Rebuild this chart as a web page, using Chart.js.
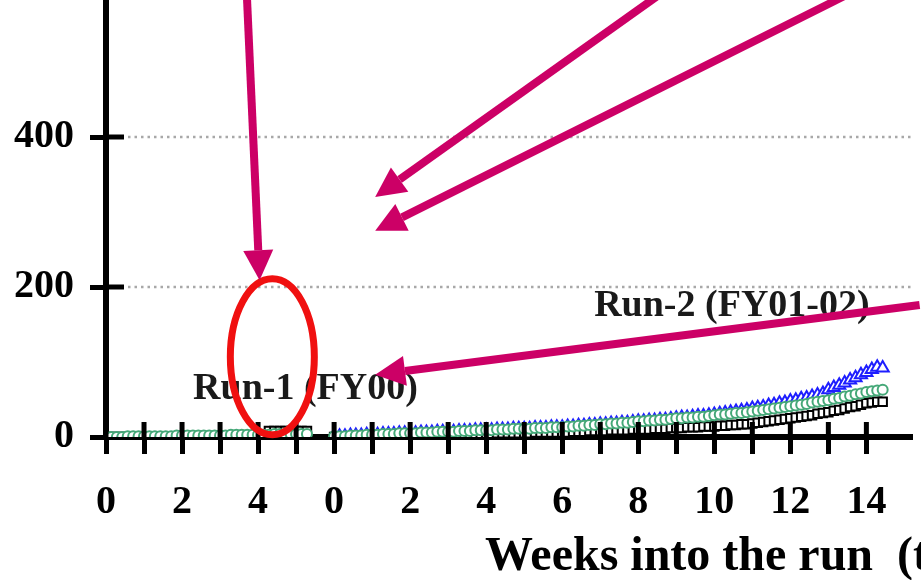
<!DOCTYPE html>
<html>
<head>
<meta charset="utf-8">
<script src="https://cdn.jsdelivr.net/npm/chart.js@4"></script>
<style>
  html, body { margin: 0; padding: 0; background: #fff; overflow: hidden; }
  #wrap { position: relative; width: 921px; height: 580px; overflow: hidden; }
  #myChart { position: absolute; left: 0; top: -53px; }
</style>
</head>
<body>
<div id="wrap"><canvas id="myChart" width="921" height="633"></canvas></div>
<script>
// weeks on the shared axis where run 2 starts
const RUN2_START = 6
const yTicks = [0, 200, 400, 600]

// daily values, run 1 (FY00)
const run1Green = [0,0,0,0,1,1,1,1,1,1,1,1,1,2,2,2,2,2,2,2,2,2,2,3,3,3,3,3,3,3,3,4,4,4,4,4,4,4]
const run1Black = [0,0,0,0,0,1,1,1,1,1,1,1,1,1,1,1,1,1,1,1,1,2,2,2,2,2,2,2,2,3,8,8,8,8,8,8,8,8]
const run1Red = [-4,-4,-4,-4,-4,-4,-4,-4,-4,-4,-4,-4,-4,-4,-4,-4,-4,-4,-4,-4,-4,-4,-4,-4,-4,-4,-4,-4,-4,-4,-4,-4,-4,-4,-4,-4,-4,-4]

// daily values, run 2 (FY01-02)
const run2Green = [
    1,1,1,2,2,2,3, 3,3,4,4,4,5,5, 5,5,6,6,6,7,7, 7,7,8,8,8,9,9,
    9,9,10,10,10,11,11, 11,11,12,12,12,13,13, 13,14,14,15,15,16,16,
    17,17,18,18,19,19,20, 21,21,22,22,23,23,24, 25,25,26,26,27,27,28,
    29,30,30,31,32,32,33, 34,35,36,37,38,39,40, 41,42,43,44,46,47,48,
    49,51,52,54,55,57,58, 60,61,62,63
]
const run2Blue = [
    1,1,1,2,2,2,3, 3,3,4,4,4,5,5, 5,5,6,6,6,7,7, 7,7,8,8,8,9,9,
    9,9,10,10,10,11,11, 11,11,12,12,12,13,13, 13,14,14,15,15,16,16,
    17,17,18,18,19,19,20, 21,21,22,22,23,23,24, 25,26,26,27,28,28,29,
    30,31,32,33,34,35,36, 38,39,40,42,43,45,46, 48,49,51,52,54,56,58,
    63,66,69,72,76,79,83, 86,90,93,92
]
const run2Black = [
    0,0,0,1,1,1,1, 1,1,2,2,2,2,2, 2,2,3,3,3,3,3, 3,3,4,4,4,4,4,
    4,4,5,5,5,5,5, 5,5,6,6,6,6,6, 6,6,7,7,7,8,8,
    8,8,9,9,9,9,10, 10,10,10,11,11,11,12, 12,12,13,13,13,14,14,
    14,15,15,16,16,17,17, 18,19,20,21,22,23,24, 25,26,27,28,29,31,32,
    33,35,36,38,40,41,43, 45,46,47,47
]

function toPoints(values, start) {
    return values.map((v, i) => ({ x: start + i / 7, y: v }))
}

const serif = '"Liberation Serif", "Times New Roman", serif'
const magenta = '#CC0066'

function arrow(ctx, x1, y1, x2, y2) {
    const a = Math.atan2(y2 - y1, x2 - x1)
    const len = 30, half = 15
    const bx = x2 - Math.cos(a) * len, by = y2 - Math.sin(a) * len
    ctx.strokeStyle = magenta
    ctx.fillStyle = magenta
    ctx.lineWidth = 8
    ctx.beginPath()
    ctx.moveTo(x1, y1)
    ctx.lineTo(bx, by)
    ctx.stroke()
    ctx.beginPath()
    ctx.moveTo(x2, y2)
    ctx.lineTo(bx + Math.sin(a) * half, by - Math.cos(a) * half)
    ctx.lineTo(bx - Math.sin(a) * half, by + Math.cos(a) * half)
    ctx.closePath()
    ctx.fill()
}

// dotted grid, cross-shaped ticks, arrows, circle and labels
const extras = {
    id: 'extras',
    beforeDatasetsDraw(chart) {
        const ctx = chart.ctx
        const ys = chart.scales.y
        const area = chart.chartArea
        ctx.save()
        ctx.strokeStyle = '#a8a8a8'
        ctx.lineWidth = 2.5
        ctx.setLineDash([2.5, 4])
        yTicks.forEach(v => {
            if (v === 0) return
            const py = ys.getPixelForValue(v)
            ctx.beginPath()
            ctx.moveTo(area.left + 22, py)
            ctx.lineTo(area.right, py)
            ctx.stroke()
        })
        ctx.restore()
    },
    afterDraw(chart) {
        const ctx = chart.ctx
        const xs = chart.scales.x, ys = chart.scales.y
        const area = chart.chartArea
        ctx.save()
        ctx.strokeStyle = '#000'
        ctx.lineWidth = 5
        xs.ticks.forEach(t => {
            const px = xs.getPixelForValue(t.value)
            ctx.beginPath()
            ctx.moveTo(px, area.bottom - 15)
            ctx.lineTo(px, area.bottom)
            ctx.stroke()
        })
        ys.ticks.forEach(t => {
            const py = ys.getPixelForValue(t.value)
            if (t.value === 0) return
            ctx.beginPath()
            ctx.moveTo(area.left, py)
            ctx.lineTo(area.left + 18, py)
            ctx.stroke()
        })

        const X = v => xs.getPixelForValue(v)
        const Y = v => ys.getPixelForValue(v)

        ctx.font = 'bold 38px ' + serif
        ctx.fillStyle = '#1a1a1a'
        ctx.textBaseline = 'middle'
        ctx.textAlign = 'left'
        ctx.fillText('Run-1 (FY00)', X(2.29), Y(64))
        ctx.fillText('Run-2 (FY01-02)', X(12.84), Y(175))

        ctx.strokeStyle = '#F01010'
        ctx.lineWidth = 7
        ctx.beginPath()
        ctx.ellipse(X(4.375), Y(107), 42, 78, 0, 0, Math.PI * 2)
        ctx.stroke()

        arrow(ctx, X(3.66), Y(640), X(4.04), Y(209))
        arrow(ctx, X(14.7), Y(595), X(7.08), Y(320))
        arrow(ctx, X(19.7), Y(595), X(7.08), Y(275))
        arrow(ctx, X(21.4), Y(176), X(7.08), Y(83))

        ctx.font = 'bold 48px ' + serif
        ctx.fillStyle = '#000'
        ctx.textBaseline = 'alphabetic'
        ctx.fillText('Weeks into the run  (to date)', 485, 623)
        ctx.restore()
    }
}

const ctx = document.getElementById('myChart').getContext('2d')
new Chart(ctx, {
    type: 'line',
    data: {
        datasets: [
            {
                data: toPoints(run1Green, 0).concat([{ x: NaN, y: NaN }], toPoints(run2Green, RUN2_START)),
                showLine: false,
                pointStyle: 'circle',
                pointRadius: 5,
                pointBorderWidth: 2,
                borderColor: '#45A878',
                backgroundColor: '#ffffff',
                order: 0,
            },
            {
                data: toPoints(run1Black, 0).concat([{ x: NaN, y: NaN }], toPoints(run2Black, RUN2_START)),
                showLine: false,
                pointStyle: 'rect',
                pointRadius: 6,
                pointBorderWidth: 2,
                borderColor: '#000000',
                backgroundColor: '#ffffff',
                order: 1,
            },
            {
                data: toPoints(run2Blue, RUN2_START),
                showLine: false,
                pointStyle: 'triangle',
                pointRadius: 7,
                pointBorderWidth: 2,
                borderColor: '#1E1EFF',
                backgroundColor: '#ffffff',
                order: 2,
            },
            {
                data: toPoints(run1Red, 0),
                pointRadius: 0,
                borderColor: '#F0203A',
                borderWidth: 2,
                order: 3,
            },
        ]
    },
    options: {
        responsive: false,
        animation: false,
        devicePixelRatio: 1,
        layout: { padding: { top: 27, right: 0, left: 0, bottom: 0 } },
        plugins: { legend: { display: false }, tooltip: { enabled: false } },
        scales: {
            x: {
                type: 'linear',
                min: 0,
                max: 21.2,
                afterFit: s => { s.height = 143 },
                afterBuildTicks: s => { s.ticks = s.ticks.filter(t => Number.isInteger(t.value)) },
                border: { color: '#000', width: 6 },
                grid: { drawOnChartArea: false, tickLength: 17, tickWidth: 5, tickColor: '#000' },
                ticks: {
                    stepSize: 1,
                    autoSkip: false,
                    maxRotation: 0,
                    padding: 25,
                    color: '#000',
                    font: { family: serif, size: 40, weight: 'bold' },
                    callback: v => {
                        const w = v < RUN2_START ? v : v - RUN2_START
                        return w % 2 === 0 ? String(w) : ''
                    }
                }
            },
            y: {
                min: 0,
                max: 600,
                afterFit: s => { s.width = 106 },
                afterBuildTicks: s => { s.ticks = yTicks.map(v => ({ value: v })) },
                border: { color: '#000', width: 6 },
                grid: {
                    drawOnChartArea: false,
                    tickLength: 16,
                    tickWidth: 5,
                    tickColor: '#000',
                },
                ticks: {
                    padding: 16,
                    color: '#000',
                    font: { family: serif, size: 40, weight: 'bold' },
                }
            }
        }
    },
    plugins: [extras]
})
</script>
</body>
</html>
